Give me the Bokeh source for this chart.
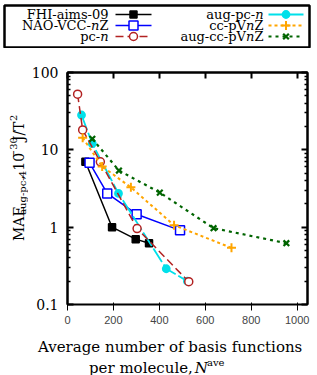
import math
from bokeh.plotting import figure
from bokeh.models import Range1d, LogAxis, LinearAxis, FixedTicker, Label, CustomJSTickFormatter
from bokeh.layouts import column, row
from bokeh.embed import file_html
from bokeh.resources import INLINE

# ---------------- data ----------------
fhi_x = [78, 194, 297, 355]
fhi_y = [7.0, 1.0, 0.70, 0.62]
nao_x = [96, 173, 301, 490]
nao_y = [6.8, 2.73, 1.47, 0.91]
pc_x = [44, 66, 143, 303, 528]
pc_y = [52.5, 18.1, 7.0, 0.96, 0.197]
augpc_x = [61, 108, 222, 430, 522]
augpc_y = [28.2, 12.0, 2.73, 0.29, 0.20]
cc_x = [66, 151, 276, 464, 714]
cc_y = [14.3, 6.1, 3.27, 1.06, 0.54]
augcc_x = [108, 224, 402, 636, 953]
augcc_y = [13.9, 5.4, 2.8, 0.97, 0.62]

x_ticks = [0, 200, 400, 600, 800, 1000]
y_ticks = [0.1, 1, 10, 100]
y_minor = [m * d for d in (0.1, 1, 10) for m in range(2, 10)]

X_MAX = 1045
Y_MIN, Y_MAX = 0.1, 100

FONT = "DejaVu Serif"

# approximate DejaVu Serif advance widths (em)
W = {'a': .596, 'b': .640, 'c': .560, 'd': .640, 'e': .592, 'f': .370, 'g': .640, 'h': .644,
     'i': .320, 'l': .320, 'm': .948, 'n': .644, 'o': .602, 'p': .640, 'r': .478, 's': .513,
     't': .402, 'u': .644, 'v': .565, 'w': .856, ' ': .318, ',': .318, '-': .338, '.': .318,
     '/': .337, '\u2212': .838, 'A': .722, 'E': .730, 'M': .872, 'J': .468, 'T': .669,
     'N': .830, 'Z': .710, 'V': .722, 'C': .733, 'O': .787, 'F': .684, 'H': .872, 'I': .419}


def tw(s, size):
    return sum(W.get(ch, .636) for ch in s) * size


series = [
    dict(label=[("FHI-aims-09", False)], x=fhi_x, y=fhi_y, color="black", dash="solid",
         marker="square", size=7, fill="black", lw=1.5, col=0, row=0),
    dict(label=[("NAO-VCC-", False), ("n", True), ("Z", False)], x=nao_x, y=nao_y,
         color="#0000ff", dash="solid", marker="square", size=9, fill="white", lw=1.5, col=0, row=1),
    dict(label=[("aug-pc-", False), ("n", True)], x=augpc_x, y=augpc_y, color="#00e0ea",
         dash="16 3", marker="circle", size=7, fill="#00e0ea", lw=1.8, col=1, row=0),
    dict(label=[("pc-", False), ("n", True)], x=pc_x, y=pc_y, color="#b22222", dash="8 4",
         marker="circle", size=8, fill="white", lw=1.5, col=0, row=2),
    dict(label=[("cc-pV", False), ("n", True), ("Z", False)], x=cc_x, y=cc_y, color="#ffa500",
         dash="3 3", marker="cross", size=9, fill=None, lw=2, col=1, row=1),
    dict(label=[("aug-cc-pV", False), ("n", True), ("Z", False)], x=augcc_x, y=augcc_y,
         color="#006400", dash="3 4", marker="x", size=8, fill=None, lw=2.2, col=1, row=2),
]

TOTAL_W = 313


def pixel_fig(w, h, **kw):
    """Figure whose data coordinates equal pixel offsets inside its frame (y downwards)."""
    bl, br, bt, bb = kw.pop("borders", (0, 0, 0, 0))
    f = figure(width=w, height=h, x_range=Range1d(0, w - bl - br), y_range=Range1d(h - bt - bb, 0),
               min_border_left=bl, min_border_right=br, min_border_top=bt, min_border_bottom=bb,
               toolbar_location=None, output_backend="svg",
               x_axis_location=None, y_axis_location=None)
    f.grid.visible = False
    f.outline_line_color = None
    return f


def put(f, text, x, y, size, align="left", baseline="alphabetic", angle=0.0, italic=False):
    f.add_layout(Label(x=x, y=y, x_units="data", y_units="data", text=text,
                       text_font=FONT, text_font_size=f"{size}px", angle=angle,
                       text_font_style="italic" if italic else "normal",
                       text_align=align, text_baseline=baseline, text_color="black"))


# ---------------- legend ----------------
lf = pixel_fig(TOTAL_W, 48, borders=(4, 4, 5, 1))
lf.outline_line_color = "black"
lf.outline_line_width = 2.5

row_y = [9, 20, 31]
text_end = [104, 259]
key_x = [(111, 147), (264, 299)]
LFS = 13

for s in series:
    yy = row_y[s["row"]]
    x0, x1 = key_x[s["col"]]
    lf.line([x0, x1], [yy, yy], line_color=s["color"], line_dash=s["dash"], line_width=s["lw"])
    lf.scatter([(x0 + x1) / 2], [yy], marker=s["marker"], size=s["size"], line_color=s["color"],
               fill_color=s["fill"], line_width=s["lw"])
    end = text_end[s["col"]]
    for txt, ital in reversed(s["label"]):
        put(lf, txt, end, yy, LFS, align="right", baseline="middle", italic=ital)
        end -= tw(txt, LFS)

# ---------------- main plot ----------------
YT_W = 28
MAIN_H = 289
p = figure(width=TOTAL_W - YT_W, height=MAIN_H, x_range=Range1d(0, X_MAX),
           y_range=Range1d(Y_MIN, Y_MAX), y_axis_type="log", output_backend="svg",
           toolbar_location=None, min_border_left=36, min_border_right=6,
           min_border_top=24, min_border_bottom=33)
p.grid.visible = False
p.outline_line_color = "black"
p.outline_line_width = 2

p.xaxis.ticker = FixedTicker(ticks=x_ticks, minor_ticks=[])
p.yaxis.ticker = FixedTicker(ticks=y_ticks, minor_ticks=y_minor)
p.yaxis.formatter = CustomJSTickFormatter(code="return tick < 1 ? tick.toFixed(1) : tick.toFixed(0);")

top = LinearAxis(ticker=FixedTicker(ticks=x_ticks, minor_ticks=[]),
                 formatter=CustomJSTickFormatter(code="return '';"))
right = LogAxis(ticker=FixedTicker(ticks=y_ticks, minor_ticks=y_minor),
                formatter=CustomJSTickFormatter(code="return '';"))
p.add_layout(top, "above")
p.add_layout(right, "right")

for ax in [p.xaxis[0], p.yaxis[0], top, right]:
    ax.axis_line_width = 2
    ax.major_tick_in = 6
    ax.major_tick_out = 0
    ax.minor_tick_in = 3
    ax.minor_tick_out = 0
    ax.major_tick_line_width = 2
    ax.minor_tick_line_width = 1.5
    ax.major_label_text_font = FONT
    ax.major_label_text_font_size = "14px"
    ax.major_label_text_color = "black"
for ax in [top, right]:
    ax.major_label_text_font_size = "0px"
    ax.major_label_standoff = 0
p.xaxis[0].major_label_standoff = 15
p.yaxis[0].major_label_standoff = 9

for s in series:
    p.line(s["x"], s["y"], line_color=s["color"], line_dash=s["dash"], line_width=s["lw"])
    p.scatter(s["x"], s["y"], marker=s["marker"], size=s["size"], line_color=s["color"],
              fill_color=s["fill"], line_width=s["lw"])

AFS = 15
YFS = 14
SFS = 10

# ---------------- y-axis title (rotated) ----------------
yt = pixel_fig(YT_W, MAIN_H)
yl = [("MAE", YFS, 18), ("aug-pc-4", SFS, 22), (", 10", YFS, 18), ("\u221230", SFS, 13),
      (" J/T", YFS, 18), ("2", SFS, 13)]
tot = sum(tw(t, s) for t, s, _ in yl)
cy = 132 + tot / 2
for t, s, xc in yl:
    put(yt, t, xc, cy, s, angle=math.pi / 2, baseline="middle")
    cy -= tw(t, s)

# ---------------- x-axis title ----------------
XT_H = 375 - 48 - MAIN_H
xt = pixel_fig(TOTAL_W, XT_H)
put(xt, "Average number of basis functions", 170, 9, AFS, align="center", baseline="middle")
l2 = [("per molecule, ", AFS, 0, False), ("N", AFS, 0, True), ("ave", SFS, -5, False)]
tot = sum(tw(t, s) for t, s, _, _ in l2)
cx = 156 - tot / 2
for t, s, off, it in l2:
    put(xt, t, cx, 30 + off, s, italic=it)
    cx += tw(t, s)

layout = column(lf, row(yt, p), xt)
open("out.html", "w").write(file_html(layout, INLINE))
